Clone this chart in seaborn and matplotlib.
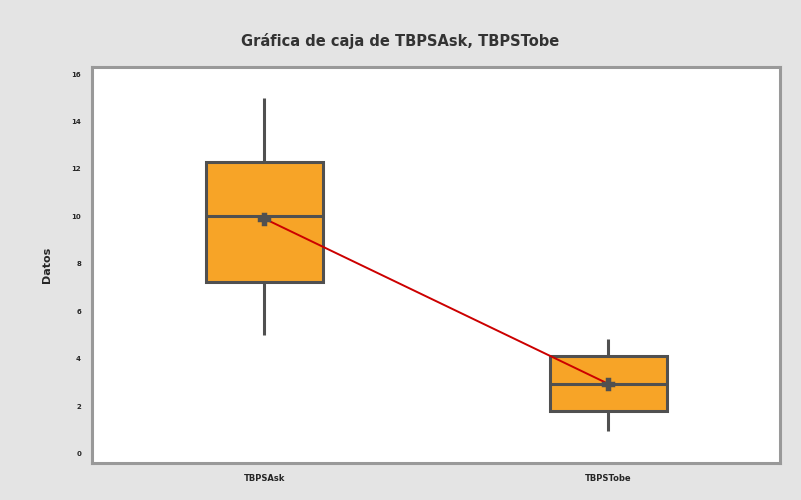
import pandas as pd
import matplotlib
matplotlib.use("Agg")
import matplotlib.pyplot as plt
import seaborn as sns

# valores (min, Q1, mediana, Q3, max)
categorias = ["TBPSAsk", "TBPSTobe"]
tbpsask = [5.0, 7.25, 10.0, 12.3, 15.0]
tbpstobe = [0.97, 1.8, 2.95, 4.13, 4.85]
yticks = [0, 2, 4, 6, 8, 10, 12, 14, 16]

df = pd.DataFrame({
    "serie": [categorias[0]] * len(tbpsask) + [categorias[1]] * len(tbpstobe),
    "Datos": tbpsask + tbpstobe,
})

sns.set_style("white")
fig = plt.figure(figsize=(8.01, 5), dpi=100, facecolor="#e4e4e4")
ax = fig.add_axes([0.115, 0.074, 0.859, 0.792])

gris = "#505050"
sns.boxplot(data=df, x="serie", y="Datos", order=categorias, color="#f7a427",
            width=0.34, whis=(0, 100), saturation=1, linewidth=2.2, linecolor=gris,
            showcaps=False, ax=ax)

# linea de medias
sns.pointplot(data=df, x="serie", y="Datos", order=categorias, errorbar=None,
              color="#cc0000", markers="P", linewidth=1.4, markersize=9,
              markerfacecolor=gris, markeredgecolor=gris, ax=ax)

ax.set_xlim(-0.5, 1.5)
ax.set_ylim(-0.4, 16.3)
ax.set_yticks(yticks)
ax.set_yticklabels([str(v) for v in yticks], fontsize=5, fontweight="bold")
ax.set_xticks([0, 1])
ax.set_xticklabels(categorias, fontsize=6, fontweight="bold")
ax.tick_params(length=0, pad=8)
ax.set_xlabel("")
ax.set_ylabel("Datos", fontsize=8, fontweight="bold", labelpad=14)

for s in ax.spines.values():
    s.set_color("#999999")
    s.set_linewidth(2.2)

fig.text(0.5, 0.918, "Gráfica de caja de TBPSAsk, TBPSTobe", ha="center", va="center",
         fontsize=10.5, fontweight="semibold", color="#333333")

fig.savefig("out.png", dpi=100, facecolor=fig.get_facecolor())
